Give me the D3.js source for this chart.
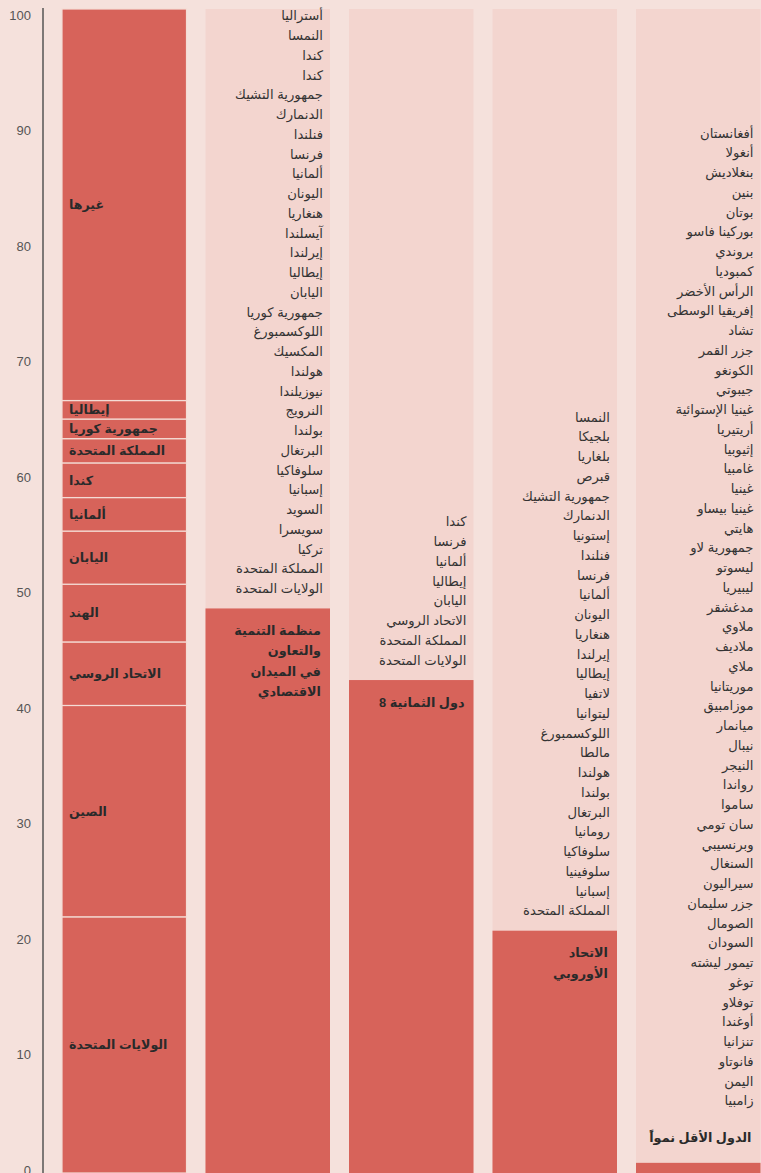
<!DOCTYPE html>
<html lang="ar">
<head>
<meta charset="utf-8">
<script src="https://cdn.jsdelivr.net/npm/d3@7"></script>
<style>
  body { margin: 0; background: #f5e1dc; }
  svg { display: block; font-family: Arial, "Liberation Sans", "DejaVu Sans", sans-serif; }
</style>
</head>
<body>
<script>
// share of world emissions, stacked from the bottom of the first column
const countries = ['الولايات المتحدة', 'الصين', 'الاتحاد الروسي', 'الهند', 'اليابان', 'ألمانيا',
  'كندا', 'المملكة المتحدة', 'جمهورية كوريا', 'إيطاليا', 'غيرها'];
const countryShares = [21.4, 18.3, 5.5, 5.0, 4.6, 2.9, 3.0, 2.1, 1.7, 1.6, 33.9];

const blocNames = ['منظمة التنمية والتعاون في الميدان الاقتصادي', 'دول الثمانية 8', 'الاتحاد الأوروبي', 'الدول الأقل نمواً'];
const blocLabelLines = [
  ['منظمة التنمية', 'والتعاون', 'في الميدان', 'الاقتصادي'],
  ['دول الثمانية 8'],
  ['الاتحاد', 'الأوروبي'],
  ['الدول الأقل نمواً']
];
const blocShares = [48.1, 41.9, 20.2, 0.1];

const oecdMembers = ['أستراليا', 'النمسا', 'كندا', 'كندا', 'جمهورية التشيك', 'الدنمارك', 'فنلندا', 'فرنسا',
  'ألمانيا', 'اليونان', 'هنغاريا', 'آيسلندا', 'إيرلندا', 'إيطاليا', 'اليابان', 'جمهورية كوريا',
  'اللوكسمبورغ', 'المكسيك', 'هولندا', 'نيوزيلندا', 'النرويج', 'بولندا', 'البرتغال', 'سلوفاكيا',
  'إسبانيا', 'السويد', 'سويسرا', 'تركيا', 'المملكة المتحدة', 'الولايات المتحدة'];
const g8Members = ['كندا', 'فرنسا', 'ألمانيا', 'إيطاليا', 'اليابان', 'الاتحاد الروسي', 'المملكة المتحدة', 'الولايات المتحدة'];
const euMembers = ['النمسا', 'بلجيكا', 'بلغاريا', 'قبرص', 'جمهورية التشيك', 'الدنمارك', 'إستونيا', 'فنلندا',
  'فرنسا', 'ألمانيا', 'اليونان', 'هنغاريا', 'إيرلندا', 'إيطاليا', 'لاتفيا', 'ليتوانيا', 'اللوكسمبورغ',
  'مالطا', 'هولندا', 'بولندا', 'البرتغال', 'رومانيا', 'سلوفاكيا', 'سلوفينيا', 'إسبانيا', 'المملكة المتحدة'];
const ldcMembers = ['أفغانستان', 'أنغولا', 'بنغلاديش', 'بنين', 'بوتان', 'بوركينا فاسو', 'بروندي', 'كمبوديا',
  'الرأس الأخضر', 'إفريقيا الوسطى', 'تشاد', 'جزر القمر', 'الكونغو', 'جيبوتي', 'غينيا الإستوائية',
  'أريتيريا', 'إثيوبيا', 'غامبيا', 'غينيا', 'غينيا بيساو', 'هايتي', 'جمهورية لاو', 'ليسوتو', 'ليبيريا',
  'مدغشقر', 'ملاوي', 'ملاديف', 'ملاي', 'موريتانيا', 'موزامبيق', 'ميانمار', 'نيبال', 'النيجر', 'رواندا',
  'ساموا', 'سان تومي', 'وبرنسيبي', 'السنغال', 'سيراليون', 'جزر سليمان', 'الصومال', 'السودان',
  'تيمور ليشته', 'توغو', 'توفلاو', 'أوغندا', 'تنزانيا', 'فانوتاو', 'اليمن', 'زامبيا'];
const blocMembers = [oecdMembers, g8Members, euMembers, ldcMembers];

const yTicks = [0, 10, 20, 30, 40, 50, 60, 70, 80, 90, 100];

const width = 761;
const height = 1173;
const red = '#d7635a';
const colBg = '#f3d5cf';
const lineH = 19.75;

const svg = d3.select('body').append('svg')
  .attr('width', width)
  .attr('height', height);

const y = d3.scaleLinear()
  .domain([0, 100])
  .range([1164, 9]);

const x = d3.scaleBand()
  .domain(['countries', ...blocNames])
  .range([62, 760.5])
  .paddingInner(0.1324);

// axis
svg.append('line')
  .attr('x1', 43).attr('x2', 43)
  .attr('y1', 8).attr('y2', height)
  .attr('stroke', '#555')
  .attr('stroke-width', 1.5);

svg.append('g')
  .selectAll('text')
  .data(yTicks)
  .join('text')
    .attr('x', 31)
    .attr('y', d => y(d) + 6)
    .attr('dy', '0.35em')
    .attr('text-anchor', 'end')
    .attr('fill', '#555')
    .attr('font-size', 13)
    .text(d => d);

// first column: stacked countries
let cum = 0;
const stack = countries.map((name, i) => {
  const d = { name, v: countryShares[i], y0: cum, y1: cum + countryShares[i] };
  cum += countryShares[i];
  return d;
});

const segTop = d => y(d.y1);
const segBottom = d => (d.y0 === 0 ? height : y(d.y0));

const col1 = svg.append('g');
col1.selectAll('rect')
  .data(stack)
  .join('rect')
    .attr('x', x('countries'))
    .attr('width', x.bandwidth())
    .attr('y', segTop)
    .attr('height', d => segBottom(d) - segTop(d))
    .attr('fill', red)
    .attr('stroke', '#f4dcd5')
    .attr('stroke-width', 1.2);

col1.selectAll('text')
  .data(stack)
  .join('text')
    .attr('x', x('countries') + 7)
    .attr('y', d => (segTop(d) + segBottom(d)) / 2)
    .attr('dy', '0.35em')
    .attr('text-anchor', 'start')
    .attr('font-size', 12.6)
    .attr('font-weight', 'bold')
    .attr('fill', '#2a2a2a')
    .text(d => d.name);

// bloc columns
const blocs = blocNames.map((name, i) => ({
  name, v: blocShares[i], lines: blocLabelLines[i], members: blocMembers[i], last: i === blocNames.length - 1
}));

const cols = svg.selectAll('.bloc')
  .data(blocs)
  .join('g')
    .attr('class', 'bloc');

cols.append('rect')
  .attr('x', d => x(d.name))
  .attr('width', x.bandwidth())
  .attr('y', y(100))
  .attr('height', height - y(100))
  .attr('fill', colBg);

cols.append('rect')
  .attr('x', d => x(d.name))
  .attr('width', x.bandwidth())
  .attr('y', d => y(d.v))
  .attr('height', d => height - y(d.v))
  .attr('fill', red);

// header label: inside the bar, or above it when the bar is too short
const headerY = d => (d.last ? y(d.v) - 25 : y(d.v) + 22);

cols.append('text')
  .attr('text-anchor', 'end')
  .attr('font-size', 12.8)
  .attr('font-weight', 'bold')
  .attr('fill', '#2a2a2a')
  .each(function (d) {
    d3.select(this).selectAll('tspan')
      .data(d.lines)
      .join('tspan')
        .attr('x', x(d.name) + x.bandwidth() - 9)
        .attr('y', (l, j) => headerY(d) + j * 20.5)
        .attr('dy', '0.35em')
        .text(l => l);
  });

// member lists stacked upward from the bar
const listBottom = d => (d.last ? headerY(d) - 37 : y(d.v) - 20);

cols.append('text')
  .attr('text-anchor', 'end')
  .attr('font-size', 13.2)
  .attr('fill', '#333')
  .each(function (d) {
    const n = d.members.length;
    d3.select(this).selectAll('tspan')
      .data(d.members)
      .join('tspan')
        .attr('x', x(d.name) + x.bandwidth() - 7)
        .attr('y', (m, j) => listBottom(d) - (n - 1 - j) * lineH)
        .attr('dy', '0.35em')
        .text(m => m);
  });
</script>
</body>
</html>
